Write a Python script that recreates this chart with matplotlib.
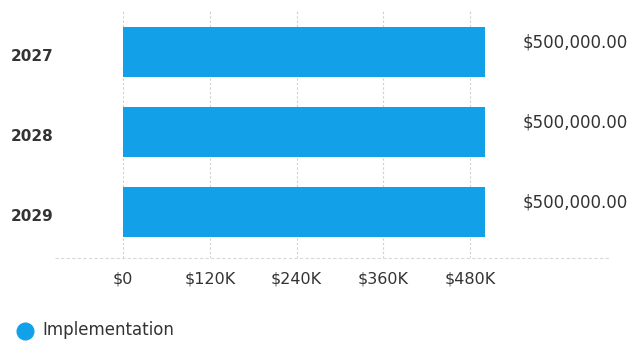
import matplotlib
matplotlib.use("Agg")
import matplotlib.pyplot as plt
from matplotlib.lines import Line2D
from matplotlib.transforms import ScaledTranslation

plt.rcParams["font.family"] = ["DejaVu Sans"]

# budget per year
years = ["2027", "2028", "2029"]
amounts = [500000, 500000, 500000]
tick_values = [0, 120000, 240000, 360000, 480000]
tick_labels = ["$0", "$120K", "$240K", "$360K", "$480K"]
series_name = "Implementation"

bar_color = "#12a1e8"
text_color = "#333333"

W, H = 632, 347
fig = plt.figure(figsize=(W / 100, H / 100), dpi=100)
fig.patch.set_facecolor("white")

# axes placed in pixel terms so $0 sits at x=123 and the base at y=258
left_px, right_px, top_px, bottom_px = 123, 499, 10, 258
ax = fig.add_axes([left_px / W, 1 - bottom_px / H,
                   (right_px - left_px) / W, (bottom_px - top_px) / H])

ypos = list(range(len(years)))
ax.barh(ypos, amounts, height=0.62, color=bar_color, zorder=2)
ax.set_xlim(0, 520000)
ax.set_ylim(2.575, -0.525)

ax.set_xticks(tick_values)
ax.set_xticklabels(tick_labels, fontsize=11.5, color=text_color)
ax.set_yticks(ypos)
ax.set_yticklabels(years, fontsize=11, fontweight="bold", color=text_color)
ax.tick_params(axis="both", length=0)
ax.tick_params(axis="x", pad=10)
ax.tick_params(axis="y", pad=81)
# year labels left-aligned and nudged a little below the bar centre
nudge = ScaledTranslation(0, -2 / 72, fig.dpi_scale_trans)
for lbl in ax.get_yticklabels():
    lbl.set_horizontalalignment("left")
    lbl.set_transform(lbl.get_transform() + nudge)

ax.grid(axis="x", color="#cfcfcf", linestyle=(0, (2, 2)), linewidth=0.8, zorder=0)
for s in ax.spines.values():
    s.set_visible(False)

# light baseline running under the whole chart
fig.add_artist(Line2D([55 / W, 610 / W], [1 - 258 / H, 1 - 258 / H],
                      color="#d8d8d8", linewidth=0.8, linestyle=(0, (3, 2))))

# value labels to the right of each bar
for y, v in zip(ypos, amounts):
    ax.annotate(f"${v:,.2f}", xy=(1, y), xycoords=("axes fraction", "data"),
                xytext=(17, 7), textcoords="offset points",
                ha="left", va="center", fontsize=12, color=text_color,
                annotation_clip=False)

# legend
fig.add_artist(Line2D([25 / W], [1 - 331 / H], marker="o", markersize=12,
                      color=bar_color, linestyle="none"))
fig.text(42 / W, 1 - 330 / H, series_name, fontsize=12, color=text_color,
         ha="left", va="center")

fig.savefig("out.png", dpi=100, facecolor="white")
